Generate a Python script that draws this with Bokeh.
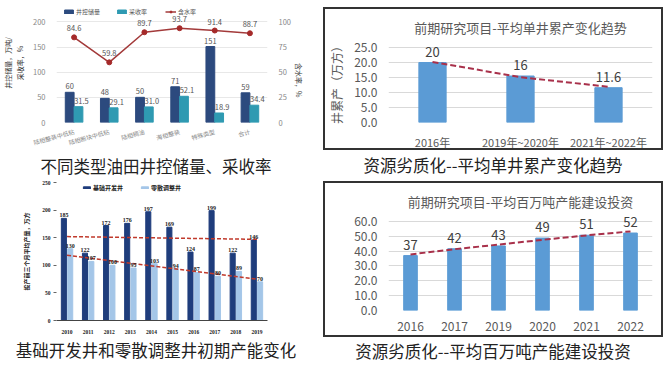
import math
from bokeh.plotting import figure
from bokeh.models import (FactorRange, Range1d, LinearAxis, FixedTicker, Legend, LegendItem,
                          Div, ColumnDataSource, NumeralTickFormatter, Spacer)
from bokeh.layouts import row, column
from bokeh.transform import dodge
from bokeh.core.properties import value
from bokeh.embed import file_html
from bokeh.resources import INLINE

CJK = "Noto Sans CJK SC"
SERIF = "Liberation Serif"

# ---------------- data ----------------
# chart 1: 不同类型油田井控储量、采收率
tl_cats = ["陆相整装中低粘", "陆相断块中低粘", "陆相稠油", "海相整装", "特殊类型", "合计"]
tl_reserve = [60, 48, 50, 71, 151, 59]
tl_recovery = [31.5, 29.1, 31.0, 52.1, 18.9, 34.4]
tl_watercut = [84.6, 59.8, 89.7, 93.7, 91.4, 88.7]
tl_left_ticks = [0, 50, 100, 150, 200]
tl_right_ticks = [0, 25, 50, 75, 100]

# chart 2: 平均单井累产变化趋势
tr_cats = ["2016年", "2019年~2020年", "2021年~2022年"]
tr_values = [20.0, 15.5, 11.6]
tr_labels = ["20", "16", "11.6"]
tr_trend = [20.2, 15.1, 11.9]
tr_ticks = [0, 5, 10, 15, 20, 25]

# chart 3: 基础开发井和零散调整井初期产能变化
bl_years = ["2010", "2011", "2012", "2013", "2014", "2015", "2016", "2017", "2018", "2019"]
bl_basic = [185, 122, 172, 176, 197, 169, 124, 199, 122, 146]
bl_infill = [130, 107, 100, 95, 103, 94, 87, 80, 89, 70]
bl_trend_years = ["2010", "2019"]
bl_trend_basic = [152, 147]
bl_trend_infill = [118, 75]
bl_ticks = [0, 50, 100, 150, 200, 250]

# chart 4: 平均百万吨产能建设投资
br_cats = ["2016", "2017", "2019", "2020", "2021", "2022"]
br_values = [37.0, 41.6, 43.5, 48.8, 50.7, 52.2]
br_labels = ["37", "42", "43", "49", "51", "52"]
br_trend = [37.8, 41.3, 44.4, 47.6, 50.6, 53.3]
br_ticks = [0, 10, 20, 30, 40, 50, 60]

captions = ["不同类型油田井控储量、采收率", "资源劣质化--平均单井累产变化趋势",
            "基础开发井和零散调整井初期产能变化", "资源劣质化--平均百万吨产能建设投资"]


def clean(p):
    p.background_fill_color = "white"
    p.border_fill_color = "white"
    p.outline_line_color = None
    p.xgrid.grid_line_color = None


def caption(text, width, height):
    return Div(text=text, width=width, height=height, margin=0,
               styles={"font-size": "16.5px", "font-family": CJK, "color": "#222",
                       "text-align": "center", "width": "100%", "line-height": f"{height}px",
                       "white-space": "nowrap"})


# ---------------- chart 1 ----------------
p1 = figure(width=312, height=154, x_range=FactorRange(*tl_cats), y_range=Range1d(0, 236.5),
            output_backend="svg", toolbar_location=None,
            min_border_left=45, min_border_right=45, min_border_top=3, min_border_bottom=26)
clean(p1)
p1.extra_y_ranges = {"wc": Range1d(0, 118.25)}
src1 = ColumnDataSource(dict(cat=tl_cats, res=tl_reserve, rec=tl_recovery, wc=tl_watercut,
                             res_t=[str(v) for v in tl_reserve],
                             rec_t=[f"{v:.1f}" for v in tl_recovery],
                             wc_t=[f"{v:.1f}" for v in tl_watercut]))
r_res = p1.vbar(x=dodge("cat", -0.125, range=p1.x_range), top="res", width=0.25,
                color="#2c4a7e", source=src1)
r_rec = p1.vbar(x=dodge("cat", 0.125, range=p1.x_range), top="rec", width=0.25,
                color="#2f9ab2", source=src1)
r_wl = p1.line(x="cat", y="wc", y_range_name="wc", line_color="#a33a3a", line_width=1.5, source=src1)
r_wm = p1.scatter(x="cat", y="wc", y_range_name="wc", size=5, color="#a52a2a", source=src1)
lbl = dict(text_baseline="bottom", text_font_size="7.5px", text_color="#555", text_font=value(CJK))
p1.text(x=dodge("cat", -0.125, range=p1.x_range), y="res", text="res_t", text_align="center",
        y_offset=-3, source=src1, **lbl)
p1.text(x=dodge("cat", 0.125, range=p1.x_range), y="rec", text="rec_t", text_align="center",
        x_offset=3, y_offset=-3, source=src1, **lbl)
p1.text(x="cat", y="wc", text="wc_t", y_range_name="wc", text_align="center",
        y_offset=-6, source=src1, **lbl)
p1.yaxis.ticker = FixedTicker(ticks=tl_left_ticks)
p1.yaxis.axis_label = "井控储量，万吨/\n采收率，%"
right_ax = LinearAxis(y_range_name="wc", ticker=FixedTicker(ticks=tl_right_ticks),
                      axis_label="含水率，%")
if "axis_label_orientation" in LinearAxis.properties():
    right_ax.axis_label_orientation = -math.pi / 2
p1.add_layout(right_ax, "right")
for ax in p1.yaxis + p1.xaxis:
    ax.axis_line_color = None
    ax.major_tick_line_color = None
    ax.minor_tick_line_color = None
    ax.major_label_text_font = CJK
    ax.major_label_text_font_size = "7.5px"
    ax.major_label_text_color = "#888"
    ax.axis_label_text_font = CJK
    ax.axis_label_text_font_size = "7px"
    ax.axis_label_text_font_style = "normal"
    ax.axis_label_text_color = "#333"
    ax.axis_label_standoff = 5
p1.xaxis.major_label_orientation = 0.27
p1.xaxis.major_label_text_font_size = "6px"
p1.xaxis.major_label_standoff = 3
p1.ygrid.grid_line_color = "#e8e8e8"
leg1 = Legend(items=[LegendItem(label="井控储量", renderers=[r_res]),
                     LegendItem(label="采收率", renderers=[r_rec]),
                     LegendItem(label="含水率", renderers=[r_wl, r_wm])],
              orientation="horizontal", location=(7, 106), label_text_font_size="6px",
              label_text_font=CJK, label_text_color="#555", glyph_width=11, glyph_height=5,
              padding=0, spacing=16, margin=0, background_fill_alpha=0, border_line_color=None,
              label_standoff=2, label_height=6)
p1.add_layout(leg1)

# ---------------- chart 3 ----------------
p4 = figure(width=312, height=158, x_range=FactorRange(*bl_years), y_range=Range1d(0, 250),
            output_backend="svg", toolbar_location=None,
            min_border_left=42, min_border_right=15, min_border_top=4, min_border_bottom=10)
clean(p4)
p4.ygrid.grid_line_color = None
src4 = ColumnDataSource(dict(yr=bl_years, b=bl_basic, i=bl_infill,
                             bt=[str(v) for v in bl_basic], it=[str(v) for v in bl_infill]))
r_b = p4.vbar(x=dodge("yr", -0.15, range=p4.x_range), top="b", width=0.24, color="#1f3d7c", source=src4)
r_i = p4.vbar(x=dodge("yr", 0.15, range=p4.x_range), top="i", width=0.24, color="#a4c6e8", source=src4)
p4.line(x=bl_trend_years, y=bl_trend_basic, line_color="#c0392b", line_width=1.5, line_dash="4 2")
p4.line(x=bl_trend_years, y=bl_trend_infill, line_color="#c0392b", line_width=1.5, line_dash="4 2")
lbl4 = dict(text_baseline="bottom", text_align="center", text_font_size="6px", text_color="#222",
            text_font=value(SERIF), text_font_style="bold", y_offset=-1)
p4.text(x=dodge("yr", -0.15, range=p4.x_range), y="b", text="bt", source=src4, **lbl4)
p4.text(x=dodge("yr", 0.15, range=p4.x_range), y="i", text="it", source=src4, **lbl4)
p4.yaxis.ticker = FixedTicker(ticks=bl_ticks)
p4.yaxis.axis_label = "投产前三个月平均产量，万方"
for ax in p4.yaxis + p4.xaxis:
    ax.major_label_text_font = SERIF
    ax.major_label_text_font_style = "bold"
    ax.major_label_text_font_size = "5.5px"
    ax.major_label_text_color = "#222"
    ax.minor_tick_line_color = None
    ax.axis_label_text_font = CJK
    ax.axis_label_text_font_size = "6px"
    ax.axis_label_text_font_style = "bold"
    ax.axis_label_text_color = "#222"
    ax.axis_label_standoff = 8
p4.yaxis.axis_line_color = None
p4.yaxis.major_tick_line_color = "#666"
p4.yaxis.major_tick_in = 0
p4.yaxis.major_tick_out = 3
p4.yaxis.major_label_standoff = 3
p4.xaxis.axis_line_color = "#444"
p4.xaxis.major_tick_line_color = None
p4.xaxis.major_label_standoff = 3
leg4 = Legend(items=[LegendItem(label="基础开发井", renderers=[r_b]),
                     LegendItem(label="零散调整井", renderers=[r_i])],
              orientation="horizontal", location=(26, 128), label_text_font_size="6px",
              label_text_font=CJK, label_text_font_style="bold", label_text_color="#222",
              glyph_width=9, glyph_height=3, padding=0, spacing=17, margin=0,
              background_fill_alpha=0, border_line_color=None, label_standoff=2, label_height=6)
p4.add_layout(leg4)


# ---------------- boxed charts ----------------
def boxed(cats, vals, labels, trend, ticks, yend, width, height, title, ylabel,
          mb_left, mb_right, mb_top, mb_bottom):
    p = figure(width=width, height=height, x_range=FactorRange(*cats), y_range=Range1d(0, yend),
               output_backend="svg", toolbar_location=None, title=title,
               min_border_left=mb_left, min_border_right=mb_right,
               min_border_top=mb_top, min_border_bottom=mb_bottom)
    clean(p)
    p.styles = {"border": "2px solid #333", "box-sizing": "border-box"}
    p.title.align = "center"
    p.title.text_font = CJK
    p.title.text_font_size = "13px"
    p.title.text_font_style = "normal"
    p.title.text_color = "#595959"
    src = ColumnDataSource(dict(c=cats, v=vals, t=labels, tr=trend))
    p.vbar(x="c", top="v", width=0.31, color="#5b9bd5", source=src)
    p.line(x="c", y="tr", line_color="#a8304a", line_width=2, line_dash="6 3", source=src)
    p.text(x="c", y="v", text="t", text_align="center", text_baseline="bottom", y_offset=-6,
           text_font_size="13px", text_color="#404040", text_font=value(CJK), source=src)
    p.yaxis.ticker = FixedTicker(ticks=ticks)
    p.yaxis.formatter = NumeralTickFormatter(format="0.0")
    if ylabel:
        p.yaxis.axis_label = ylabel
    for ax in p.yaxis + p.xaxis:
        ax.axis_line_color = None
        ax.major_tick_line_color = None
        ax.minor_tick_line_color = None
        ax.major_label_text_font = CJK
        ax.major_label_text_font_size = "12px"
        ax.major_label_text_color = "#595959"
        ax.axis_label_text_font = CJK
        ax.axis_label_text_font_size = "12px"
        ax.axis_label_text_font_style = "normal"
        ax.axis_label_text_color = "#595959"
        ax.axis_label_standoff = 6
    p.xaxis.major_label_text_font_size = "11px"
    p.ygrid.grid_line_color = "#d9d9d9"
    return p


p2 = boxed(tr_cats, tr_values, tr_labels, tr_trend, tr_ticks, 27, 340, 143,
           "前期研究项目-平均单井累产变化趋势", "井累产（万方）", 62, 10, 32, 28)
p3 = boxed(br_cats, br_values, br_labels, br_trend, br_ticks, 64, 340, 156,
           "前期研究项目-平均百万吨产能建设投资", None, 35, 13, 32, 29)
p3.xaxis.major_label_text_font_size = "12px"

cap1 = caption(captions[0], 312, 24)
cap2 = caption(captions[1], 340, 31)
cap4 = caption(captions[2], 312, 28)
cap3 = caption(captions[3], 340, 28)

left = column(p1, cap1, p4, cap4, spacing=0)
right = column(Spacer(width=340, height=7), p2, cap2, p3, cap3, spacing=0)
layout = row(left, right, spacing=11)

open("out.html", "w").write(file_html(layout, INLINE))
